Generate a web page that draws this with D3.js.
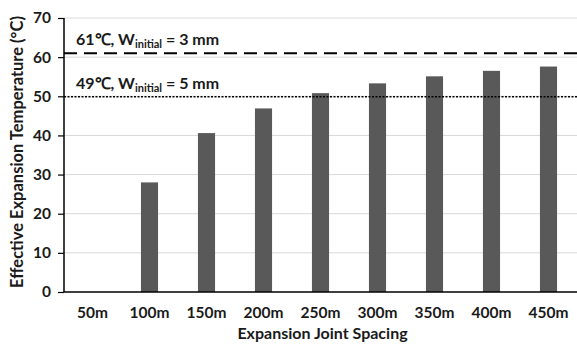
<!DOCTYPE html>
<html><head><meta charset="utf-8">
<script src="https://cdn.jsdelivr.net/npm/d3@7/dist/d3.min.js"></script>
<style>body{margin:0;background:#fff;} svg{display:block;}</style>
</head><body><svg id="c" width="577" height="344"></svg>
<script>
const categories = ["50m","100m","150m","200m","250m","300m","350m","400m","450m"];
const values = [null, 28.0, 40.6, 46.9, 50.8, 53.3, 55.1, 56.5, 57.6];
const yTicks = [0,10,20,30,40,50,60,70];
const refLines = [
  {value:61, temp:"61℃", w:"3 mm", style:"dash"},
  {value:49.9, temp:"49℃", w:"5 mm", style:"dot"}
];

const svg = d3.select("#c");
const font = "Lato, 'Open Sans', sans-serif";
const m = {left:64, right:0, top:18, bottom:52};
const W = 577, H = 344;
const x = d3.scaleBand().domain(categories).range([m.left, W - m.right]).paddingInner(0.7).paddingOuter(0.35);
const y = d3.scaleLinear().domain([0,70]).range([H - m.bottom, m.top]);

// gridlines
svg.append("g").selectAll("line").data(yTicks.filter(d=>d>0)).join("line")
  .attr("x1", m.left).attr("x2", W).attr("y1", d=>y(d)).attr("y2", d=>y(d))
  .attr("stroke", "#d9d9d9").attr("stroke-width", 1);

// bars
svg.append("g").selectAll("rect").data(categories.map((c,i)=>({c, v:values[i]})).filter(d=>d.v!=null)).join("rect")
  .attr("x", d=>x(d.c)).attr("width", x.bandwidth())
  .attr("y", d=>y(d.v)).attr("height", d=>y(0)-y(d.v))
  .attr("fill", "#595959");

// reference lines
refLines.forEach(r=>{
  svg.append("line").attr("x1", m.left).attr("x2", W).attr("y1", y(r.value)).attr("y2", y(r.value))
    .attr("stroke", "#000").attr("stroke-width", r.style==="dash"?2:1.6)
    .attr("stroke-dasharray", r.style==="dash" ? "13,7" : "2,1.5");
  const t = svg.append("text").attr("x", 76).attr("y", y(r.value) - 8)
    .attr("font-family", font).attr("font-weight", "bold").attr("font-size", 16).attr("fill", "#1a1a1a");
  t.append("tspan").text(r.temp + ", W");
  t.append("tspan").attr("font-size", 11).attr("dy", 3).text("initial");
  t.append("tspan").attr("dy", -3).text(" = " + r.w);
});

// y axis
const ya = svg.append("g").attr("transform", `translate(${m.left},0)`)
  .call(d3.axisLeft(y).tickValues(yTicks).tickSize(6).tickPadding(7));
ya.select(".domain").attr("stroke", "#000").attr("stroke-width", 1.5).attr("d", `M0,${y(70)}V${y(0)}`);
ya.selectAll(".tick line").attr("stroke", "#000").attr("stroke-width", 1.2);
ya.selectAll("text").attr("font-family", font).attr("font-weight", "bold").attr("font-size", 15.5).attr("fill", "#1a1a1a");

// x axis
const xa = svg.append("g").attr("transform", `translate(0,${y(0)})`)
  .call(d3.axisBottom(x).tickSize(0).tickPadding(15));
xa.select(".domain").attr("stroke", "#000").attr("stroke-width", 1.5).attr("d", `M${m.left},0H${W}`);
xa.selectAll("text").attr("font-family", font).attr("font-weight", "bold").attr("font-size", 15.5).attr("fill", "#1a1a1a");

// axis titles
svg.append("text").attr("x", (m.left + W)/2 + 2).attr("y", 339).attr("text-anchor","middle")
  .attr("font-family", font).attr("font-weight","bold").attr("font-size", 16).attr("fill","#1a1a1a")
  .text("Expansion Joint Spacing");
svg.append("text").attr("transform", `translate(23,152) rotate(-90)`).attr("text-anchor","middle")
  .attr("font-family", font).attr("font-weight","bold").attr("font-size", 16.5).attr("fill","#1a1a1a")
  .text("Effective Expansion Temperature (°C)");
</script></body></html>
